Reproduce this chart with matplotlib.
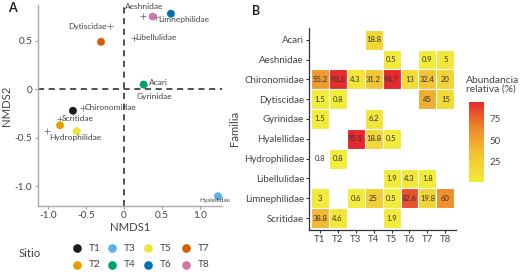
import numpy as np
import matplotlib
matplotlib.use("Agg")
import matplotlib.pyplot as plt
from matplotlib.colors import LinearSegmentedColormap

plt.rcParams['font.family'] = ['Lato', 'DejaVu Sans']

# NMDS: sitios
sitios = ["T1", "T2", "T3", "T4", "T5", "T6", "T7", "T8"]
sitio_x = [-0.67, -0.84, 1.24, 0.26, -0.62, 0.62, -0.30, 0.38]
sitio_y = [-0.22, -0.37, -1.10, 0.05, -0.43, 0.78, 0.49, 0.75]
colores = ["#1a1a1a", "#e69f00", "#56b4e9", "#009e73",
           "#f0e442", "#0072b2", "#d55e00", "#cc79a7"]

# NMDS: familias (cruces)
fam_nmds = ["Aeshnidae", "Limnephilidae", "Libellulidae", "Dytiscidae", "Acari",
            "Gyrinidae", "Chironomidae", "Scritidae", "Hydrophilidae", "Hyalellidae"]
fam_x = [0.25, 0.43, 0.13, -0.18, 0.26, 0.26, -0.54, -0.84, -1.01, 1.27]
fam_y = [0.76, 0.75, 0.53, 0.65, 0.05, 0.05, -0.19, -0.30, -0.43, -1.11]

# Heatmap
familias = ["Acari", "Aeshnidae", "Chironomidae", "Dytiscidae", "Gyrinidae",
            "Hyalellidae", "Hydrophilidae", "Libellulidae", "Limnephilidae", "Scritidae"]
n = np.nan
abund = [
    [n, n, n, 18.8, n, n, n, n],
    [n, n, n, n, 0.5, n, 0.9, 5],
    [55.2, 93.6, 4.3, 31.2, 94.7, 13, 32.4, 20],
    [1.5, 0.8, n, n, n, n, 45, 15],
    [1.5, n, n, 6.2, n, n, n, n],
    [n, n, 95.1, 18.8, 0.5, n, n, n],
    [0.8, 0.8, n, n, n, n, n, n],
    [n, n, n, n, 1.9, 4.3, 1.8, n],
    [3, n, 0.6, 25, 0.5, 82.6, 19.8, 60],
    [38.8, 4.6, n, n, 1.9, n, n, n],
]
sin_fondo = [("Hydrophilidae", "T1")]

gris = "#444444"
fig = plt.figure(figsize=(5.28, 2.76), dpi=100)

# ---------- Panel A ----------
ax = fig.add_axes([0.072, 0.254, 0.348, 0.728])
ax.set_xlim(-1.13, 1.29)
ax.set_ylim(-1.2, 0.87)
ax.axhline(0, color="#222222", ls=(0, (4, 3)), lw=1.1, zorder=1)
ax.axvline(0, color="#222222", ls=(0, (4, 3)), lw=1.1, zorder=1)
ax.scatter(fam_x, fam_y, marker="+", s=14, color="#777777", lw=0.6, zorder=2)
ax.scatter(sitio_x, sitio_y, s=32, c=colores, zorder=3, edgecolors="none")

fs = 6
etiquetas = {
    "Aeshnidae": (0.27, 0.82, "center", "bottom"),
    "Limnephilidae": (0.45, 0.72, "left", "center"),
    "Libellulidae": (0.15, 0.53, "left", "center"),
    "Dytiscidae": (-0.22, 0.65, "right", "center"),
    "Acari": (0.33, 0.07, "left", "center"),
    "Gyrinidae": (0.40, -0.04, "center", "top"),
    "Chironomidae": (-0.52, -0.19, "left", "center"),
    "Scritidae": (-0.82, -0.30, "left", "center"),
    "Hydrophilidae": (-0.98, -0.46, "left", "top"),
    "Hyalellidae": (1.20, -1.12, "center", "top"),
}
for f in fam_nmds:
    tx, ty, ha, va = etiquetas[f]
    ax.text(tx, ty, f, fontsize=fs if f != "Hyalellidae" else 4.6,
            ha=ha, va=va, color=gris)

ax.set_xticks([-1.0, -0.5, 0, 0.5, 1.0])
ax.set_xticklabels(["-1.0", "-0.5", "0", "0.5", "1.0"])
ax.set_yticks([-1.0, -0.5, 0, 0.5])
ax.set_yticklabels(["-1.0", "-0.5", "0", "0.5"])
ax.tick_params(labelsize=7.2, colors="#999999", labelcolor=gris, length=2.5, pad=1.5)
for s in ["top", "right"]:
    ax.spines[s].set_visible(False)
for s in ["left", "bottom"]:
    ax.spines[s].set_color("#aaaaaa")
    ax.spines[s].set_linewidth(1.0)
ax.set_xlabel("NMDS1", fontsize=8.2, color=gris, labelpad=1)
ax.set_ylabel("NMDS2", fontsize=8.2, color=gris, labelpad=2)
fig.text(0.015, 0.955, "A", fontsize=9, fontweight="bold", color="#222222")

# Leyenda
fig.text(0.036, 0.083, "Sitio", fontsize=8.2, color=gris, va="center")
col_x = [0.146, 0.212, 0.281, 0.352]
fila_y = [0.101, 0.040]
for i, s in enumerate(sitios):
    cx = col_x[i // 2]
    cy = fila_y[i % 2]
    fig.add_artist(plt.Line2D([cx], [cy], marker="o", ms=5.2, color=colores[i],
                              ls="none", transform=fig.transFigure))
    fig.text(cx + 0.022, cy, s, fontsize=7.3, color=gris, va="center")

# ---------- Panel B ----------
cmap = LinearSegmentedColormap.from_list(
    "ab", ["#f2ec3a", "#f3c534", "#ef8a2c", "#e5282e"])
bx = fig.add_axes([0.585, 0.167, 0.279, 0.732])
nf, nc = len(familias), len(sitios)
bx.set_xlim(-0.6, nc - 0.4)
bx.set_ylim(nf - 0.4, -0.6)
vmin, vmax = 0.5, 95.1
for i, f in enumerate(familias):
    for j, s in enumerate(sitios):
        v = abund[i][j]
        if np.isnan(v):
            continue
        if (f, s) not in sin_fondo:
            bx.add_patch(plt.Rectangle((j - 0.5, i - 0.5), 1, 1,
                                       facecolor=cmap((v - vmin) / (vmax - vmin)),
                                       edgecolor="white", lw=0.8))
        txt = ("%g" % v)
        bx.text(j, i, txt, fontsize=5.5, ha="center", va="center", color="#333333")
bx.set_xticks(range(nc))
bx.set_xticklabels(sitios)
bx.set_yticks(range(nf))
bx.set_yticklabels(familias)
bx.tick_params(labelsize=7, colors="#333333", labelcolor=gris, length=2, pad=1.5, width=0.8)
for s in ["top", "right"]:
    bx.spines[s].set_visible(False)
for s in ["left", "bottom"]:
    bx.spines[s].set_color("#333333")
    bx.spines[s].set_linewidth(0.9)
bx.set_ylabel("Familia", fontsize=8.2, color=gris, labelpad=3)
fig.text(0.478, 0.945, "B", fontsize=9, fontweight="bold", color="#222222")

# Barra de color
cax = fig.add_axes([0.888, 0.341, 0.028, 0.29])
grad = np.linspace(vmin, vmax, 200).reshape(-1, 1)
cax.imshow(grad, aspect="auto", cmap=cmap, origin="lower",
           extent=[0, 1, vmin, vmax], vmin=vmin, vmax=vmax)
cax.set_xticks([])
cax.yaxis.tick_right()
cax.set_yticks([25, 50, 75])
cax.tick_params(labelsize=7, labelcolor=gris, length=2, color="white", pad=2)
for s in cax.spines.values():
    s.set_visible(False)
fig.text(0.882, 0.66, "Abundancia\nrelativa (%)", fontsize=7.4, color=gris,
         va="bottom", linespacing=1.0)

fig.savefig("out.png", dpi=100)
